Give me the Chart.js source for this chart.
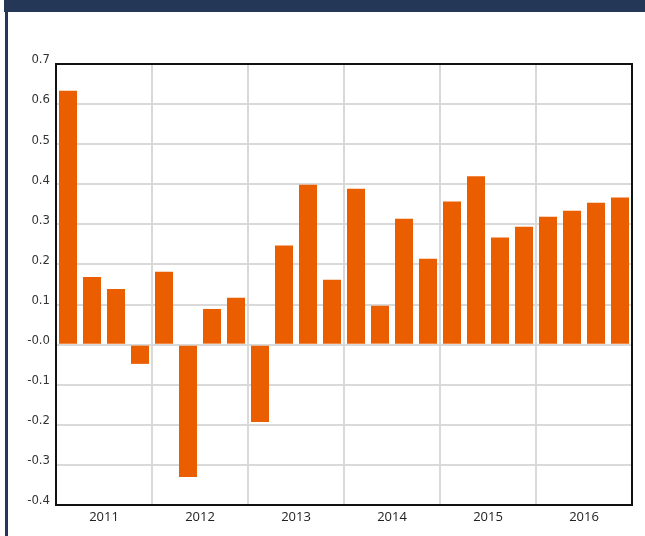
<!DOCTYPE html>
<html>
<head>
<meta charset="utf-8">
<script src="https://cdn.jsdelivr.net/npm/chart.js@4/dist/chart.umd.min.js"></script>
<style>
    html, body { margin: 0; padding: 0; background: #fff; }
    #wrap { position: absolute; left: 0; top: 0; width: 645px; height: 536px; }
    #topBar { position: absolute; left: 4px; top: 0; width: 641px; height: 12px; background: #243757; }
    #leftBar { position: absolute; left: 5px; top: 12px; width: 3px; height: 524px; background: #243757; }
</style>
</head>
<body>
<div id="wrap"><canvas id="grafico" width="645" height="536"></canvas></div>
<div id="topBar"></div>
<div id="leftBar"></div>
<script>
/* dados */
const anos = ["2011", "2012", "2013", "2014", "2015", "2016"];
const trimestres = ["Q1", "Q2", "Q3", "Q4"];
const categorias = anos.flatMap(a => trimestres.map(t => a + " " + t));
const valores = [
    0.633, 0.169, 0.139, -0.048,
    0.182, -0.330, 0.089, 0.117,
    -0.193, 0.247, 0.399, 0.162,
    0.389, 0.097, 0.314, 0.214,
    0.357, 0.420, 0.267, 0.294,
    0.319, 0.334, 0.354, 0.367
];
const yMin = -0.4, yMax = 0.7, yPasso = 0.1;

/* moldura preta em volta da área do gráfico */
const moldura = {
    id: "moldura",
    afterDraw(chart) {
        const { ctx, chartArea: a } = chart;
        ctx.save();
        ctx.strokeStyle = "#111";
        ctx.lineWidth = 2;
        ctx.strokeRect(a.left, a.top, a.right - a.left, a.bottom - a.top);
        ctx.restore();
    }
};

new Chart(document.getElementById("grafico"), {
    type: "bar",
    data: {
        labels: categorias,
        datasets: [{
            data: valores,
            backgroundColor: "#EB5E00",
            barPercentage: 0.75,
            categoryPercentage: 1
        }]
    },
    options: {
        responsive: false,
        animation: false,
        layout: { padding: { top: 64, right: 13, left: 0, bottom: 0 } },
        plugins: { legend: { display: false }, tooltip: { enabled: false } },
        scales: {
            x: {
                offset: true,
                border: { display: false },
                grid: {
                    offset: true,
                    drawTicks: false,
                    lineWidth: 2,
                    color: c => (c.index > 0 && c.index < categorias.length && c.index % 4 === 0) ? "#d9d9d9" : "rgba(0,0,0,0)"
                },
                ticks: {
                    autoSkip: false,
                    maxRotation: 0,
                    padding: 4,
                    labelOffset: 12,
                    color: "#222",
                    font: { family: "'Open Sans', sans-serif", size: 13 },
                    callback: (v, i) => i % 4 === 1 ? anos[Math.floor(i / 4)] : ""
                },
                afterFit: s => { s.height = 31; }
            },
            y: {
                min: yMin,
                max: yMax,
                border: { display: false },
                grid: { color: "#d9d9d9", lineWidth: 2, drawTicks: false },
                ticks: {
                    stepSize: yPasso,
                    padding: 6,
                    labelOffset: -4,
                    color: "#333",
                    font: { family: "'Liberation Sans Narrow', 'DejaVu Sans Condensed', sans-serif", size: 13 },
                    callback: v => Math.abs(v) < 1e-9 ? "-0.0" : v.toFixed(1)
                },
                afterFit: s => { s.width = 56; }
            }
        }
    },
    plugins: [moldura]
});
</script>
</body>
</html>
